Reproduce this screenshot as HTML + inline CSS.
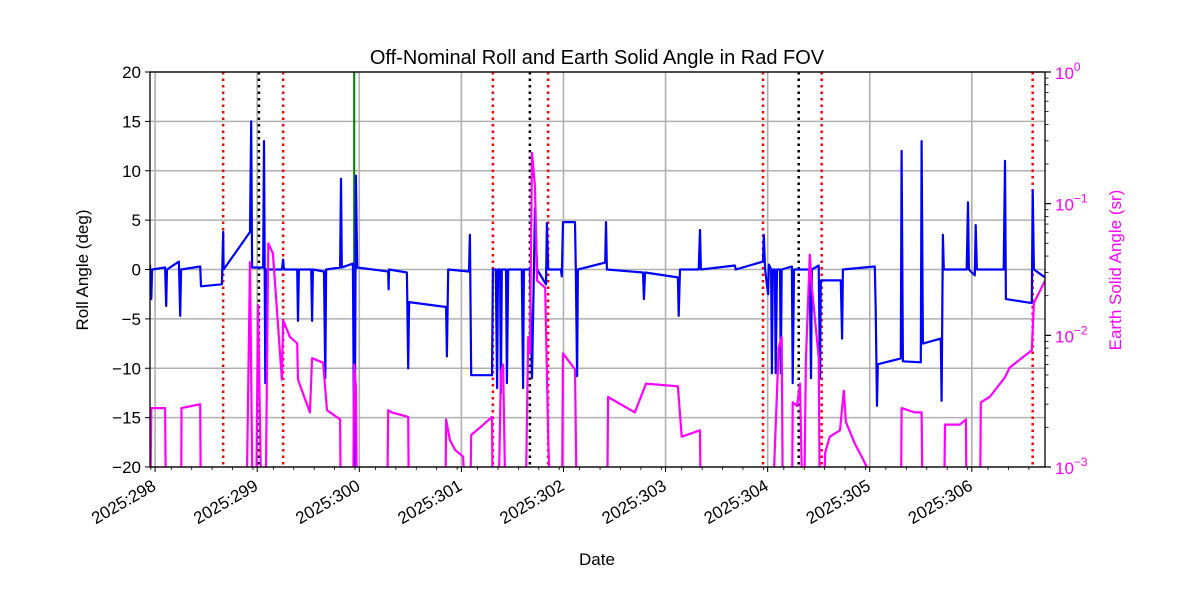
<!DOCTYPE html>
<html><head><meta charset="utf-8"><style>
body{margin:0;background:#fff}
svg{display:block;font-family:"Liberation Sans","DejaVu Sans",sans-serif}
</style></head><body>
<svg id="chart" width="1200" height="600" viewBox="0 0 1200 600" xmlns="http://www.w3.org/2000/svg">
<rect width="1200" height="600" fill="#fff"/>
<defs><clipPath id="clip"><rect x="150" y="72" width="895" height="395"/></clipPath></defs>
<text x="597" y="64" font-size="20" text-anchor="middle">Off-Nominal Roll and Earth Solid Angle in Rad FOV</text>
<text x="597" y="565" font-size="17" text-anchor="middle">Date</text>
<text transform="translate(88,270) rotate(-90)" font-size="17" text-anchor="middle">Roll Angle (deg)</text>
<text transform="translate(1121,270) rotate(-90)" font-size="17" text-anchor="middle" fill="#ff00ff">Earth Solid Angle (sr)</text>
<g id="grid"></g>
<g id="vlines" clip-path="url(#clip)"></g>
<g id="series" clip-path="url(#clip)"></g>
<g id="axes"></g>
</svg>
<script>
// hours since 2025:298 00:00
const rollHours=[-1.2,-0.9,-0.7,2.35,2.6,2.8,5.6,5.9,6.1,10.6,10.8,15.7,16.0,16.1,22.3,22.6,22.8,25.4,25.6,25.9,26.1,29.8,30.1,30.3,33.4,33.6,33.8,36.7,36.9,37.1,39.7,40.0,40.2,43.5,43.7,43.9,46.5,46.8,47.0,47.2,47.5,54.8,54.9,55.0,59.2,59.5,59.7,68.4,68.6,68.9,73.8,74.0,74.3,79.2,79.4,80.1,80.4,80.6,81.1,81.3,81.5,82.5,82.7,83.0,86.2,86.5,86.7,88.1,88.6,89.3,89.8,91.9,92.1,92.4,95.4,95.6,95.9,98.7,98.9,99.2,99.4,105.8,106.0,106.2,114.7,114.9,115.2,122.9,123.1,123.4,127.8,128.1,128.3,136.3,136.5,142.9,143.1,143.4,144.1,144.3,144.8,145.0,145.2,145.7,145.9,146.2,146.9,147.1,147.3,149.7,149.9,150.2,153.9,154.2,154.4,156.0,156.3,156.5,161.2,161.5,161.7,169.2,169.4,169.7,169.9,175.3,175.5,175.8,180.0,180.2,180.5,184.7,184.9,185.2,185.4,190.8,191.1,191.3,192.7,192.9,193.2,199.5,199.8,200.0,206.1,206.3,206.6,209.2];
const rollDeg=[0.5,-3,0,0.2,-3.7,0,0.8,-4.7,0,0.3,-1.7,-1.5,3.8,0,3.8,15,0.2,0.2,13,-11.5,0,0,1,0,0,-5.2,0,0,-5.2,0,-0.2,-11,0,0.2,9.2,0.2,0.6,-20,-12,9.5,0.2,-0.2,-2,0,-0.3,-10,-3.3,-3.8,-8.8,0,-0.2,3.5,-10.7,-10.7,0,0,-12,0,0,-12.5,0,0,-11.5,0,0,-12,0,0,-11,6.2,0,-1.5,4.7,0,0,-0.7,4.8,4.8,0,-10.8,0,0.7,4.8,0,-0.3,-3,-0.3,-0.8,-4.7,0,0,4,0,0.4,0,0.8,3.5,0,-2.5,0.5,0,-10.5,0,0,-10.5,0,0,-10.5,0,0.3,-11.5,0,0,-11,0,0.4,-11,-1.1,-1.1,-7,0,0.3,-4,-13.8,-9.6,-9,12,-9.3,-9.4,13,-7.5,-7,-13.3,3.5,0,0,6.8,0,-0.6,4.5,0,0,11,-3,-3.4,8,0,-0.8];
const earthHours=[-1.2,-0.9,2.35,2.6,6.1,6.2,10.6,10.8,21.4,22.3,23.0,23.7,24.2,25.1,25.9,26.6,27.7,29.8,30.1,31.7,33.4,33.6,36.4,36.9,39.5,40.4,43.5,43.7,46.5,46.8,47.2,47.5,54.5,54.8,55.7,59.5,59.7,68.2,68.4,69.3,70.5,72.4,73.3,74.0,74.3,76.4,79.2,79.4,80.6,81.3,81.8,82.5,87.0,87.7,88.1,88.6,89.3,89.8,91.7,92.4,93.1,95.6,95.9,98.7,99.2,106.2,106.5,112.8,115.4,122.9,123.8,128.1,128.3,144.9,146.6,147.3,147.6,149.7,149.9,150.9,151.6,152.3,152.5,153.0,153.9,154.4,156.0,156.3,157.0,157.5,158.6,161.0,161.9,162.4,164.5,166.1,167.3,168.0,175.3,175.5,178.6,180.2,180.5,185.4,185.7,189.2,190.6,190.8,193.9,194.1,196.2,199.8,200.9,206.1,206.6,209.2];
const earthSr=[0.0003,0.0028,0.0028,0.0003,0.0003,0.0028,0.003,0.0003,0.0003,0.036,0.0003,0.0003,0.017,0.0003,0.0003,0.05,0.042,0.0046,0.013,0.0097,0.0087,0.0046,0.0026,0.0067,0.0062,0.0027,0.0023,0.0003,0.0003,0.006,0.0041,0.0003,0.0003,0.0027,0.0026,0.0024,0.0003,0.0003,0.0023,0.0016,0.00135,0.0012,0.0003,0.0003,0.00175,0.002,0.0024,0.0003,0.0003,0.0052,0.006,0.0003,0.0003,0.0097,0.0073,0.243,0.134,0.026,0.023,0.0017,0.0003,0.0003,0.0073,0.0055,0.0003,0.0003,0.0034,0.0026,0.0043,0.0041,0.0017,0.0019,0.0003,0.0003,0.0081,0.0097,0.0003,0.0003,0.0031,0.0029,0.0043,0.0003,0.0003,0.0065,0.041,0.023,0.0068,0.0003,0.0003,0.00128,0.0017,0.0019,0.0038,0.0022,0.0015,0.0012,0.001,0.0003,0.0003,0.0028,0.0026,0.0026,0.0003,0.0003,0.0021,0.0021,0.0023,0.0003,0.0003,0.0031,0.0034,0.0048,0.0057,0.0077,0.0176,0.026];
const redEventHours=[16.0,30.1,79.4,92.4,142.9,156.7,206.3];
const blackEventHours=[24.4,88.1,151.3];
const greenEventHours=[46.8];
const xTickLabels=["2025:298","2025:299","2025:300","2025:301","2025:302","2025:303","2025:304","2025:305","2025:306"];
const yTicks=[-20,-15,-10,-5,0,5,10,15,20];
const y2Exponents=[-3,-2,-1,0];

const L=150,R=1045,T=72,B=467;
const hMin=-1.2,hMax=209.2;
const X=h=>L+(h-hMin)/(hMax-hMin)*(R-L);
const Y=v=>B-(v+20)/40*(B-T);
const Y2=s=>B-(Math.log10(s)+3)/3*(B-T);
const NS="http://www.w3.org/2000/svg";
function mk(tag,attrs,parent,txt){const e=document.createElementNS(NS,tag);for(const k in attrs)e.setAttribute(k,attrs[k]);if(txt!==undefined)e.textContent=txt;parent.appendChild(e);return e;}
const grid=document.getElementById('grid'),vl=document.getElementById('vlines'),ser=document.getElementById('series'),ax=document.getElementById('axes');

xTickLabels.forEach((lab,i)=>{const x=X(i*24);
 const g=mk('line',{x1:x,x2:x,y1:T,y2:B,stroke:'#b0b0b0','stroke-width':1.6},grid);
 
 
 const t=mk('line',{x1:x,x2:x,y1:B,y2:B+5,stroke:'#000','stroke-width':1},ax);
 
 
 const tx=mk('text',{x:x+2,y:B+22,'font-size':17,'text-anchor':'end',transform:`rotate(-30 ${x+2} ${B+22})`},ax,lab);
 
 
});
for(let h=-1;h<=209;h+=4.8){ if(Math.abs(h/24-Math.round(h/24))<0.01)continue; const m=mk('line',{x1:X(h),x2:X(h),y1:B,y2:B+3,stroke:'#000','stroke-width':0.8},ax);
 
 }
yTicks.forEach(v=>{const y=Y(v);
 const g=mk('line',{x1:L,x2:R,y1:y,y2:y,stroke:'#b0b0b0','stroke-width':1.6},grid);
 
 
 const t=mk('line',{x1:L-5,x2:L,y1:y,y2:y,stroke:'#000'},ax);
 
 
 const tx=mk('text',{x:L-9,y:y+6,'font-size':17,'text-anchor':'end'},ax,String(v).replace('-','\u2212'));
 
 
});
y2Exponents.forEach(e=>{const y=Y2(Math.pow(10,e));
 const t=mk('line',{x1:R,x2:R+6,y1:y,y2:y,stroke:'#000','stroke-width':1.2},ax);
 
 
 const tx=mk('text',{x:R+10,y:y+7,'font-size':17,fill:'#ff00ff'},ax);
 
 
 mk('tspan',{},tx,'10');
 mk('tspan',{dy:-8,'font-size':12},tx,e<0?'\u2212'+(-e):String(e));
 if(e<0){for(let k=2;k<=9;k++){const ym=Y2(k*Math.pow(10,e));
  const m=mk('line',{x1:R,x2:R+3.5,y1:ym,y2:ym,stroke:'#000','stroke-width':0.8},ax);
  
  }}
});
function vline(h,color,dash,name){const x=X(h);
 const l=mk('line',{x1:x,x2:x,y1:T,y2:B,stroke:color,'stroke-width':dash?2.5:2,'stroke-dasharray':dash?'2.5,4':'none'},vl);
 
 }
greenEventHours.forEach(h=>vline(h,'#008000',false,'green-event-line'));
function path(xs,ys,fy,color,name){let d='';xs.forEach((h,i)=>{d+=(i?'L':'M')+X(h).toFixed(1)+','+fy(ys[i]).toFixed(1);});
 const p=mk('path',{d:d,fill:'none',stroke:color,'stroke-width':2.2,'stroke-linejoin':'round'},ser);
 
 }
path(rollHours,rollDeg,Y,'#0000ff','roll-angle-line');
path(earthHours,earthSr,Y2,'#ff00ff','earth-solid-angle-line');
redEventHours.forEach(h=>vline(h,'#ff0000',true,'red-event-line'));
blackEventHours.forEach(h=>vline(h,'#000000',true,'black-event-line'));
const fr=mk('rect',{x:L,y:T,width:R-L,height:B-T,fill:'none',stroke:'#000','stroke-width':1.3},ax);


</script>
</body></html>
